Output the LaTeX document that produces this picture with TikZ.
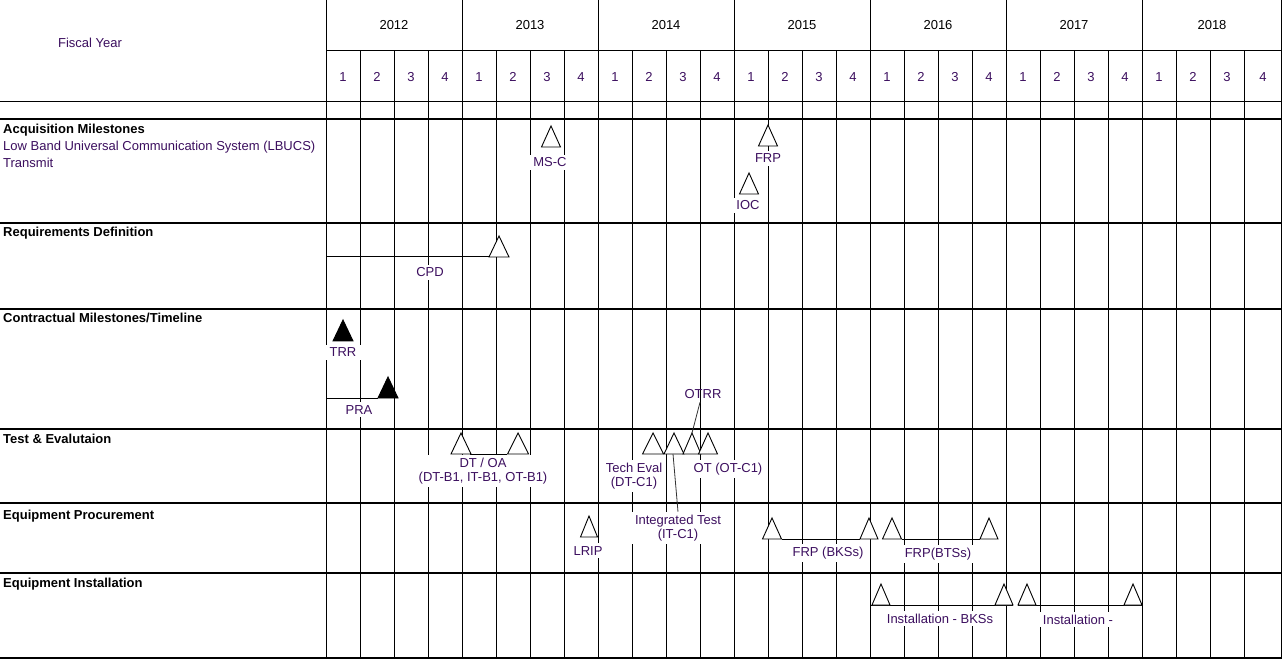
\documentclass[tikz,border=0pt]{standalone}
\usepackage{fontspec}
\setmainfont{Liberation Sans}
\definecolor{txt}{RGB}{60,15,95}
\newcommand{\mstone}[5]{% name, apex x, apex y, half width, style
  \coordinate (#1) at (#2,#3);
  \coordinate (#1-l) at ({#2-#4},{#3+21});
  \coordinate (#1-r) at ({#2+#4},{#3+21});
  \draw[#5] (#1) -- (#1-l) -- (#1-r) -- cycle;
}
\begin{document}
\begin{tikzpicture}[x=1pt,y=-1pt,
  every node/.style={font=\fontsize{13}{14}\selectfont},
  gridline/.style={line width=1pt,black},
  heavyline/.style={line width=2.6pt,black},
  opentri/.style={line width=0.9pt,fill=white,line join=miter},
  solidtri/.style={line width=0.9pt,fill=black,line join=miter},
  lbl/.style={fill=white,inner xsep=4pt,inner ysep=3pt,text=txt,align=center},
  hdr/.style={anchor=base west,inner sep=0pt,font=\fontsize{13}{14}\selectfont\bfseries},
  sub/.style={anchor=base west,inner sep=0pt,text=txt},
  link/.style={line width=0.8pt,black!80}]
\useasboundingbox (0,0) rectangle (1283,660);
\fill[white] (0,0) rectangle (1283,660);
% grid
\def\qw{34}
\foreach \k in {0,...,27}{
  \pgfmathsetmacro\xx{326+\qw*\k}
  \pgfmathtruncatemacro\m{mod(\k,4)}
  \ifnum\m=0
    \draw[gridline] (\xx,0) -- (\xx,658);
  \else
    \draw[gridline] (\xx,51) -- (\xx,658);
  \fi
}
\draw[gridline] (1281.5,0) -- (1281.5,658);
\draw[gridline] (326,51) -- (1281.5,51);
\draw[gridline] (0,102) -- (1281.5,102);
\foreach \y in {119,223,309,429,503,573,658}
  \draw[heavyline] (0,\y) -- (1282,\y);
% header texts
\node[text=txt] (fy) at (90,43) {Fiscal Year};
\foreach \yr/\cx in {2012/394,2013/530,2014/666,2015/802,2016/938,2017/1074,2018/1212}
  \node (y\yr) at (\cx,25) {\yr};
\foreach \k in {0,...,26}{
  \pgfmathtruncatemacro\qq{mod(\k,4)+1}
  \node[text=txt] (q\k) at ({326+\qw*(\k+0.5)},77) {\qq};
}
\node[text=txt] (q27) at (1263,77) {4};
% row headers
\node[hdr] (h1) at (3,134) {Acquisition Milestones};
\node[sub] (h1a) at (3,151) {Low Band Universal Communication System (LBUCS)};
\node[sub] (h1b) at (3,168) {Transmit};
\node[hdr] (h2) at (3,237) {Requirements Definition};
\node[hdr] (h3) at (3,323) {Contractual Milestones/Timeline};
\node[hdr] (h4) at (3,443) {Test \& Evalutaion};
\node[hdr] (h5) at (3,519) {Equipment Procurement};
\node[hdr] (h6) at (3,587) {Equipment Installation};
% base lines of milestone spans
\coordinate (cpd0) at (326,257);
\coordinate (pra0) at (326,398);
\coordinate (inst0) at (870,605);
\coordinate (inst9) at (1142,605);
% milestones
\mstone{msc}{551}{126}{9.5}{opentri}
\mstone{frp}{768}{125}{9.5}{opentri}
\mstone{ioc}{749}{173}{9.5}{opentri}
\mstone{cpd}{499}{236}{10}{opentri}
\draw[gridline] (cpd0) -- (cpd-l);
\mstone{trr}{343}{320}{10}{solidtri}
\draw[gridline] (pra0) -- (378,398);
\mstone{pra}{388}{377}{10}{solidtri}
\draw[gridline] (470,454) -- (507,454);
\mstone{dt1}{461}{433}{10}{opentri}
\mstone{dt2}{518}{433}{10.5}{opentri}
\mstone{te1}{653}{433}{10.5}{opentri}
\mstone{te2}{674}{433}{10}{opentri}
\mstone{te3}{692}{433}{9}{opentri}
\mstone{te4}{708}{433}{9.5}{opentri}
\mstone{lrip}{589}{516}{8.5}{opentri}
\mstone{bk1}{772}{518}{9.5}{opentri}
\mstone{bk2}{869}{518}{9}{opentri}
\draw[gridline] (bk1-r) -- (bk2-l);
\mstone{bt1}{892}{518}{9.5}{opentri}
\mstone{bt2}{989}{518}{9}{opentri}
\draw[gridline] (bt1-r) -- (bt2-l);
\draw[gridline] (inst0) -- (1013,605);
\mstone{in1}{881}{584}{9}{opentri}
\mstone{in2}{1004}{584}{9}{opentri}
\draw[gridline] (1018,605) -- (inst9);
\mstone{in3}{1027}{584}{9}{opentri}
\mstone{in4}{1133}{584}{9}{opentri}
% labels
\node[lbl,minimum width=36pt,anchor=base] (lmsc) at (550,167) {MS-C};
\node[lbl,anchor=base] (lfrp) at (768,163) {FRP};
\node[lbl,anchor=base] (lioc) at (748,210) {IOC};
\node[lbl,anchor=base] (lcpd) at (430,277) {CPD};
\node[lbl,minimum width=37pt,anchor=base] (ltrr) at (343,357) {TRR};
\node[lbl,anchor=base] (lpra) at (359,414) {PRA};
\node[lbl,inner xsep=6pt] (ldt) at (483,471) {DT / OA\\(DT-B1, IT-B1, OT-B1)};
\node[lbl] (ltech) at (634,476) {Tech Eval\\(DT-C1)};
\node[lbl,anchor=base] (lot) at (728,472) {OT (OT-C1)};
\node[lbl,anchor=base,fill=none] (lotrr) at (703,399) {OTRR};
\draw[link] ([xshift=-3pt]lotrr.south) -- (te3);
\coordinate (itTop) at (673,454);
\node[lbl] (lit) at (678,528) {Integrated Test\\(IT-C1)};
\draw[link] (itTop) -- (lit.north);
\node[lbl,anchor=base] (llrip) at (588,555) {LRIP};
\node[lbl,anchor=base] (lbks) at (828,556) {FRP (BKSs)};
\node[lbl,anchor=base] (lbts) at (938,557) {FRP(BTSs)};
\node[lbl,anchor=base] (lin1) at (940,623) {Installation - BKSs};
\node[lbl,anchor=base] (lin2) at (1078,624) {Installation -};
\end{tikzpicture}
\end{document}
